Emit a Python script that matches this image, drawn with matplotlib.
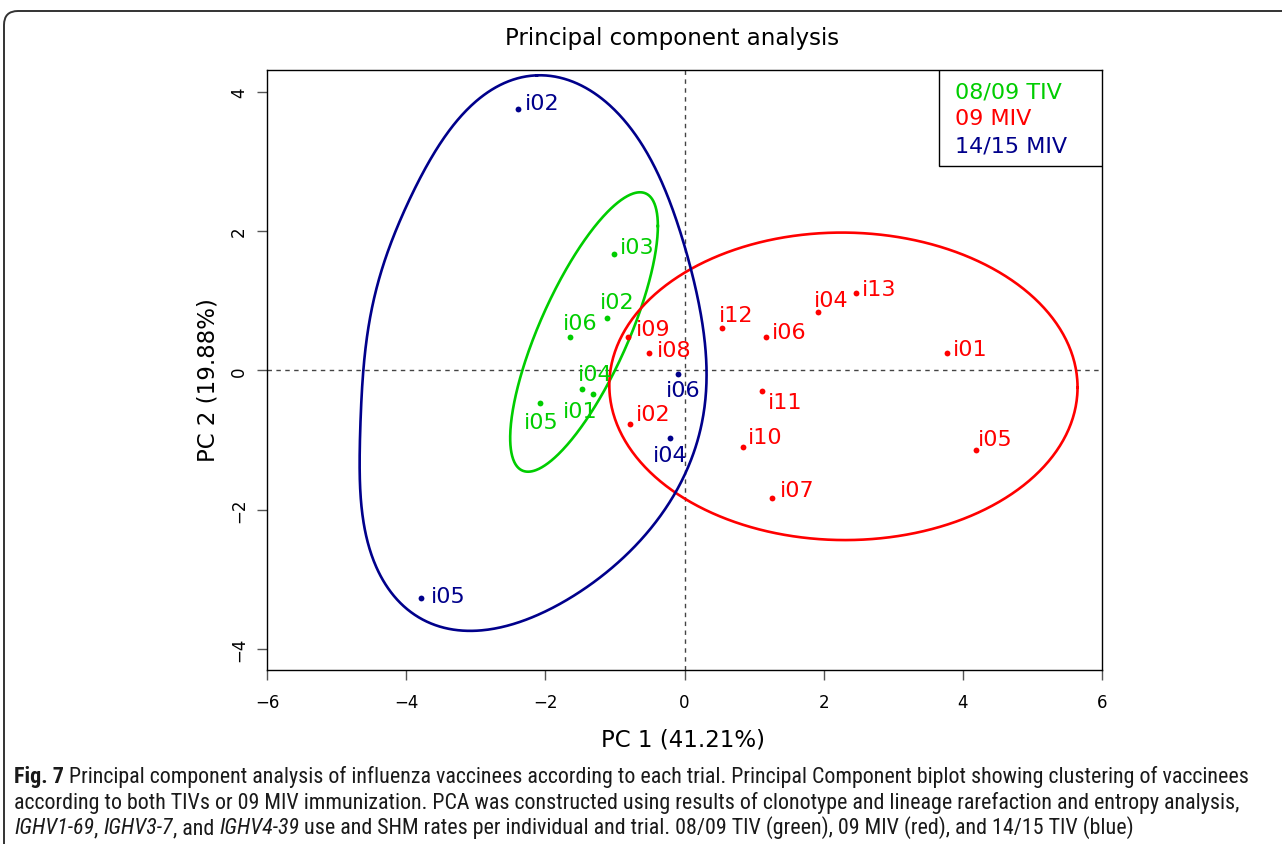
import numpy as np
import matplotlib
matplotlib.use("Agg")
import matplotlib.pyplot as plt
from matplotlib.patches import FancyBboxPatch, Rectangle
from matplotlib.transforms import IdentityTransform
from matplotlib import font_manager

plt.rcParams["font.family"] = ["DejaVu Sans"]

# ---------------- data ----------------
green_labels = ["i03", "i02", "i06", "i04", "i01", "i05"]
green_x = [-1.02, -1.12, -1.64, -1.47, -1.32, -2.07]
green_y = [1.67, 0.755, 0.48, -0.27, -0.34, -0.47]

red_labels = ["i12", "i06", "i04", "i13", "i01", "i11", "i10", "i05", "i07", "i09", "i08", "i02"]
red_x = [0.534, 1.171, 1.914, 2.464, 3.767, 1.109, 0.841, 4.188, 1.262, -0.816, -0.506, -0.778]
red_y = [0.612, 0.478, 0.833, 1.105, 0.244, -0.293, -1.101, -1.14, -1.838, 0.478, 0.253, -0.775]

blue_labels = ["i02", "i06", "i04", "i05"]
blue_x = [-2.396, -0.098, -0.208, -3.79]
blue_y = [3.752, -0.049, -0.972, -3.27]

# confidence ellipses (centre and covariance-like shape matrix)
green_ell = dict(cx=-1.444, cy=0.55, sxx=1.126, syy=4.024, sxy=1.614)
red_ell = dict(cx=2.284, cy=-0.230, sxx=11.32, syy=4.873, sxy=-0.05)

# blue contour outline
blue_cont_x = [-2.124, -1.602, -1.214, -0.352, 0.007, 0.223, 0.333, 0.223, 0.032, -0.165,
               -0.496, -0.830, -1.214, -1.789, -2.364, -2.938, -3.201, -3.614, -3.991, -4.279,
               -4.471, -4.638, -4.687, -4.638, -4.591, -4.418, -4.159, -3.800, -3.513, -3.034, -2.651]
blue_cont_y = [4.258, 4.158, 3.895, 2.746, 1.789, 0.837, -0.125, -0.742, -1.460, -1.848,
               -2.279, -2.610, -2.997, -3.356, -3.600, -3.724, -3.739, -3.667, -3.470, -3.040,
               -2.709, -1.891, -1.130, -0.312, 0.162, 1.167, 2.029, 2.771, 3.225, 3.799, 4.111]

legend_labels = ["08/09 TIV", "09 MIV", "14/15 MIV"]
x_ticks = [-6, -4, -2, 0, 2, 4, 6]
y_ticks = [-4, -2, 0, 2, 4]

title_text = "Principal component analysis"
xlabel_text = "PC 1 (41.21%)"
ylabel_text = "PC 2 (19.88%)"

caption_lines = [
    [("Fig. 7", "bold"), (" Principal component analysis of influenza vaccinees according to each trial. Principal Component biplot showing clustering of vaccinees", "normal")],
    [("according to both TIVs or 09 MIV immunization. PCA was constructed using results of clonotype and lineage rarefaction and entropy analysis,", "normal")],
    [("IGHV1-69", "italic"), (", ", "normal"), ("IGHV3-7", "italic"), (", and ", "normal"), ("IGHV4-39", "italic"),
     (" use and SHM rates per individual and trial. 08/09 TIV (green), 09 MIV (red), and 14/15 TIV (blue)", "normal")],
]

# ---------------- styles ----------------
GREEN = "#00CD00"
RED = "#FF0000"
BLUE = "#00008B"

# label offsets (pixels right, pixels down) of the label's digit centre from the point
green_off = [(6, -9.3), (-7, -18), (-8, -16), (-4.7, -17), (-30, 14.6), (-17, 16.4)]
red_off = [(-2.4, -14.7), (6, -7), (-3.4, -14.3), (5.7, -6), (6, -6.6), (6.6, 9.3), (5.3, -12),
           (2.3, -12.4), (7.7, -10), (8.3, -9.7), (8, -4.7), (5.7, -12)]
blue_off = [(6.6, -7.7), (-11.7, 14.6), (-17.3, 15.3), (10, -4.3)]

W, H = 1282, 845
DPI = 100
fig = plt.figure(figsize=(W / DPI, H / DPI), dpi=DPI)
fig.patch.set_facecolor("white")

ax_left, ax_right, ax_top, ax_bot = 267, 1102, 70.7, 671
ax = fig.add_axes([ax_left / W, (H - ax_bot) / H, (ax_right - ax_left) / W, (ax_bot - ax_top) / H])
ax.set_xlim(-6, 6)
ax.set_ylim(-4.303, 4.316)

ax.axhline(0, color="#444444", lw=1.0, ls=(0, (3.2, 3.2)), zorder=1)
ax.axvline(0, color="#444444", lw=1.0, ls=(0, (3.2, 3.2)), zorder=1)


def ellipse_xy(e, n=500):
    S = np.array([[e["sxx"], e["sxy"]], [e["sxy"], e["syy"]]])
    L = np.linalg.cholesky(S)
    t = np.linspace(0, 2 * np.pi, n)
    p = L @ np.vstack([np.cos(t), np.sin(t)])
    return e["cx"] + p[0], e["cy"] + p[1]


def smooth_closed(xs, ys, order=6, n=900):
    P = np.column_stack([xs, ys]).astype(float)
    seg = np.sqrt((np.diff(np.vstack([P, P[:1]]), axis=0) ** 2).sum(1))
    s = np.concatenate([[0], np.cumsum(seg)[:-1]]) / seg.sum() * 2 * np.pi

    def basis(u):
        cols = [np.ones_like(u)]
        for k in range(1, order + 1):
            cols += [np.cos(k * u), np.sin(k * u)]
        return np.column_stack(cols)

    A = basis(s)
    cx, *_ = np.linalg.lstsq(A, P[:, 0], rcond=None)
    cy, *_ = np.linalg.lstsq(A, P[:, 1], rcond=None)
    t = np.linspace(0, 2 * np.pi, n)
    B = basis(t)
    return B @ cx, B @ cy


ex, ey = ellipse_xy(green_ell)
ax.plot(ex, ey, color=GREEN, lw=1.9, zorder=2)
ex, ey = ellipse_xy(red_ell)
ax.plot(ex, ey, color=RED, lw=1.9, zorder=2)
bx, by = smooth_closed(blue_cont_x, blue_cont_y)
ax.plot(bx, by, color=BLUE, lw=1.9, zorder=2, solid_joinstyle="round")

LABEL_FS = 16
em_px = LABEL_FS / 72 * DPI
base_shift = 0.3645 * em_px


def draw_group(xs, ys, labels, offs, color):
    ax.plot(xs, ys, "o", color=color, ms=4.2, mec="none", zorder=3)
    for x, y, lab, (dx, dy) in zip(xs, ys, labels, offs):
        ax.annotate(lab, (x, y), xytext=(dx, -dy - base_shift), textcoords="offset pixels",
                    ha="left", va="baseline", fontsize=LABEL_FS, color=color, zorder=4)


draw_group(green_x, green_y, green_labels, green_off, GREEN)
draw_group(red_x, red_y, red_labels, red_off, RED)
draw_group(blue_x, blue_y, blue_labels, blue_off, BLUE)

# legend (drawn box at top right)
ah = ax_bot - ax_top
aw = ax_right - ax_left
leg_left = (939 - ax_left) / aw
leg_bot = (ax_bot - 167.3) / ah
ax.add_patch(Rectangle((leg_left, leg_bot), 1 - leg_left, 1 - leg_bot, transform=ax.transAxes,
                       facecolor="white", edgecolor="black", lw=1.0, zorder=5))
for lab, col, cy in zip(legend_labels, [GREEN, RED, BLUE], [90.5, 117.0, 144.3]):
    ax.text((955 - ax_left) / aw, (ax_bot - (cy + base_shift)) / ah, lab, transform=ax.transAxes,
            ha="left", va="baseline", fontsize=LABEL_FS, color=col, zorder=6)

# axes styling
for s in ax.spines.values():
    s.set_color("black")
    s.set_linewidth(1.0)
ax.set_xticks(x_ticks)
ax.set_yticks(y_ticks)
ax.set_xticklabels([("\u2212" + str(abs(v))) if v < 0 else str(v) for v in x_ticks])
ax.set_yticklabels([("\u2212" + str(abs(v))) if v < 0 else str(v) for v in y_ticks])
ax.tick_params(direction="out", length=7.2, width=1.0, color="#555555", labelsize=12)
ax.tick_params(axis="x", pad=9.5)
ax.tick_params(axis="y", pad=6.5)
for t in ax.get_yticklabels():
    t.set_rotation(90)
    t.set_va("center")

# title and axis labels (placed in figure pixel positions)
fig.text(672 / W, 1 - 38 / H, title_text, ha="center", va="center", fontsize=16.5)
fig.text(683 / W, 1 - 740 / H, xlabel_text, ha="center", va="center", fontsize=16.5)
fig.text(208 / W, 1 - 380.5 / H, ylabel_text, ha="center", va="center", fontsize=16.5, rotation=90)

# border of the figure panel
fig.patches.append(FancyBboxPatch((4, -40), 1400, H - 12 + 40, boxstyle="round,pad=0,rounding_size=14",
                                  transform=IdentityTransform(), facecolor="none",
                                  edgecolor="#333333", lw=1.4, zorder=0))

# caption font: prefer a narrow/condensed face if one is installed
cap_kw = {"family": "Roboto"}
fl = font_manager.fontManager.ttflist
names = {f.name for f in fl}
if "Liberation Sans Narrow" in names:
    cap_kw = {"family": "Liberation Sans Narrow"}
elif "Roboto Condensed" in names:
    cap_kw = {"family": "Roboto Condensed"}
elif any(f.name == "DejaVu Sans" and str(f.stretch) == "condensed" for f in fl):
    cap_kw = {"family": "DejaVu Sans", "fontstretch": "condensed"}

renderer = fig.canvas.get_renderer()


def style_kw(style, fs):
    kw = dict(fontsize=fs, **cap_kw)
    if style == "bold":
        kw["fontweight"] = "bold"
    if style == "italic":
        kw["fontstyle"] = "italic"
    return kw


def seg_width(txt, style, fs):
    kw = style_kw(style, fs)
    t1 = fig.text(0, 0, "x" + txt + "x", **kw)
    t2 = fig.text(0, 0, "xx", **kw)
    w = t1.get_window_extent(renderer).width - t2.get_window_extent(renderer).width
    t1.remove()
    t2.remove()
    return w


fs0 = 12.0
w0 = sum(seg_width(t, s, fs0) for t, s in caption_lines[0])
cap_fs = fs0 * (1238 / w0)
baselines = [783, 809.5, 834]
for segs, yb in zip(caption_lines, baselines):
    x = 14.0
    for txt, style in segs:
        kw = style_kw(style, cap_fs)
        fig.text(x / W, 1 - yb / H, txt, color="#1a1a1a", ha="left", va="baseline", **kw)
        x += seg_width(txt, style, cap_fs)

fig.savefig("out.png", dpi=DPI)
